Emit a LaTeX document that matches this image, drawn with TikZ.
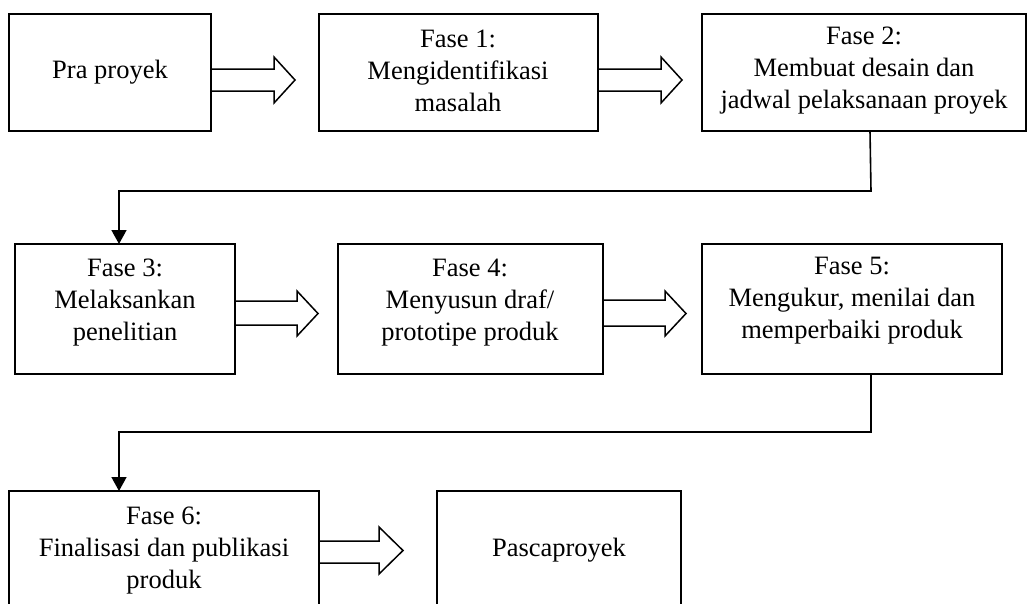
\documentclass[tikz,border=0pt]{standalone}
\usepackage{fontspec}
\setmainfont{Liberation Serif}
\usetikzlibrary{arrows.meta,calc}
\tikzset{
  boxnode/.style={draw=black, line width=1.6pt, rectangle, inner sep=0pt, outer sep=0pt},
  txt/.style={align=center, inner sep=0pt, font=\fontsize{26.5}{32}\selectfont},
  hollow/.style={draw=black, line width=1.5pt, line join=miter},
  conn/.style={draw=black, line width=1.6pt, -{Triangle[length=14pt,width=15pt]}}
}
\begin{document}
\begin{tikzpicture}[x=1pt,y=-1pt]
\clip (0,0) rectangle (1028,603);
\fill[white] (0,0) rectangle (1028,603);
% boxes
\node[boxnode, minimum width=202pt, minimum height=117pt] (p0) at (110,72.5) {};
\node[boxnode, minimum width=279pt, minimum height=117pt] (p1) at (458.5,72.5) {};
\node[boxnode, minimum width=324pt, minimum height=117pt] (p2) at (864,72.5) {};
\node[boxnode, minimum width=220pt, minimum height=130pt] (p3) at (125,309) {};
\node[boxnode, minimum width=265pt, minimum height=130pt] (p4) at (470.5,309) {};
\node[boxnode, minimum width=300pt, minimum height=130pt] (p5) at (852,309) {};
\node[boxnode, minimum width=310pt, minimum height=120pt] (p6) at (164,551) {};
\node[boxnode, minimum width=244pt, minimum height=120pt] (p7) at (559,551) {};
% texts
\node[txt] (t0) at (110,72) {Pra proyek};
\node[txt] (t1) at (458,71) {Fase 1:\\Mengidentifikasi\\masalah};
\node[txt] (t2) at (864,71) {Fase 2:\\Membuat desain dan\\jadwal pelaksanaan proyek};
\node[txt] (t3) at (125,303) {Fase 3:\\Melaksankan\\penelitian};
\node[txt] (t4) at (470,303) {Fase 4:\\Menyusun draf/\\prototipe produk};
\node[txt] (t5) at (852,301) {Fase 5:\\Mengukur, menilai dan\\memperbaiki produk};
\node[txt] (t6) at (164,551) {Fase 6:\\Finalisasi dan publikasi\\produk};
\node[txt] (t7) at (559,550) {Pascaproyek};
% tips of hollow arrows
\coordinate (a1) at (295,80);
\coordinate (a2) at (682,80);
\coordinate (a3) at (318,313.5);
\coordinate (a4) at (686,313.5);
\coordinate (a5) at (403,550.5);
% hollow arrows
\draw[hollow] ($(p0.east)+(0,-3.5)$) -- (274,69) -- (274,57) -- (a1) -- (274,103) -- (274,91) -- ($(p0.east)+(0,18.5)$);
\draw[hollow] ($(p1.east)+(0,-3.5)$) -- (661,69) -- (661,57) -- (a2) -- (661,103) -- (661,91) -- ($(p1.east)+(0,18.5)$);
\draw[hollow] ($(p3.east)+(0,-8)$) -- (297,301) -- (297,291) -- (a3) -- (297,336) -- (297,325) -- ($(p3.east)+(0,16)$);
\draw[hollow] ($(p4.east)+(0,-9)$) -- (665,300) -- (665,291) -- (a4) -- (665,336) -- (665,326) -- ($(p4.east)+(0,17)$);
\draw[hollow] ($(p6.east)+(0,-10)$) -- (379,541) -- (379,527) -- (a5) -- (379,574) -- (379,563) -- ($(p6.east)+(0,12)$);
% elbow connectors
\coordinate (b1) at (871,191);
\coordinate (b2) at (119,191);
\coordinate (c1) at (871,432);
\coordinate (c2) at (119,432);
\draw[conn] ($(p2.south)+(6,0)$) -- (b1) -- (b2) -- ($(p3.north)+(-6,0)$);
\draw[conn] ($(p5.south)+(19,0)$) -- (c1) -- (c2) -- ($(p6.north)+(-45,0)$);
\end{tikzpicture}
\end{document}
